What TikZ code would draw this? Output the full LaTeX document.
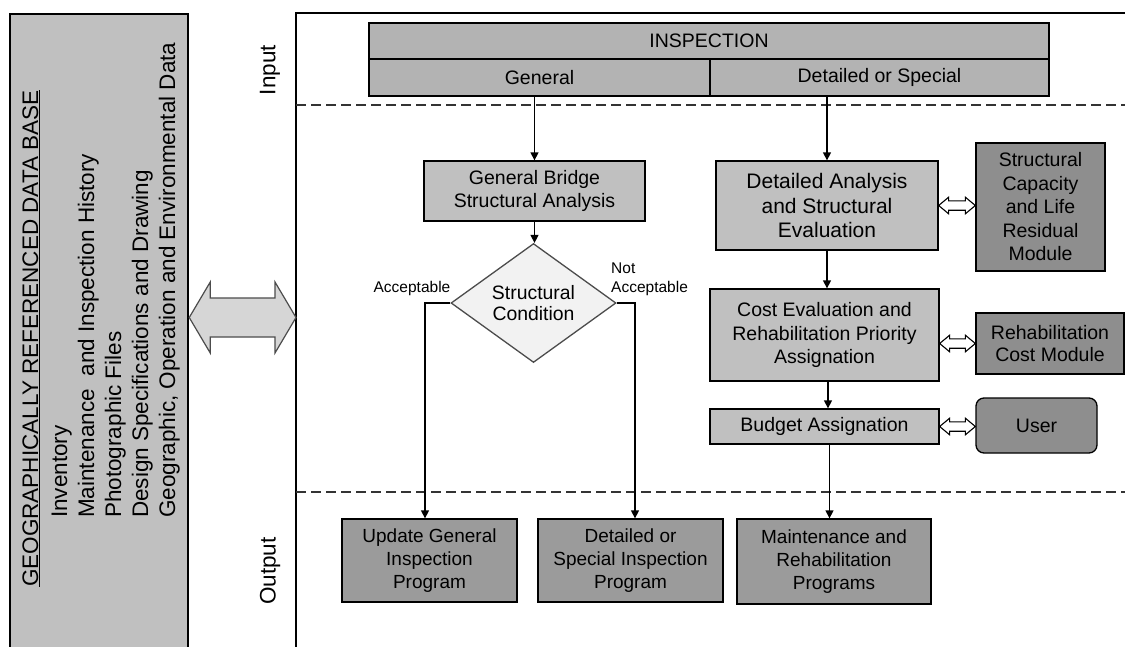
\documentclass[tikz,border=0pt]{standalone}
\usepackage{fontspec}
\setmainfont{Liberation Sans}
\usetikzlibrary{shapes.geometric,calc,arrows.meta}
\definecolor{dbfill}{HTML}{C0C0C0}
\definecolor{inspfill}{HTML}{B3B3B3}
\definecolor{midfill}{HTML}{C0C0C0}
\definecolor{darkfill}{HTML}{8E8E8E}
\definecolor{outfill}{HTML}{9B9B9B}
\definecolor{diafill}{HTML}{F2F2F2}
\definecolor{bigarrfill}{HTML}{D6D6D6}
\newcommand\hdarrow[6]{%
  \path[#6] let \p1=(#1), \p2=(#2) in
    (\x1,\y1) -- (\x1+#5pt,\y1+#3pt) -- (\x1+#5pt,\y1+#4pt) -- (\x2-#5pt,\y1+#4pt)
    -- (\x2-#5pt,\y1+#3pt) -- (\x2,\y1) -- (\x2-#5pt,\y1-#3pt) -- (\x2-#5pt,\y1-#4pt)
    -- (\x1+#5pt,\y1-#4pt) -- (\x1+#5pt,\y1-#3pt) -- cycle;}
\tikzset{
  bx/.style={draw=black, line width=1.3pt, inner sep=0pt, align=center},
  fa/.style={font=\fontsize{19.5}{22.5}\selectfont},
  fb/.style={font=\fontsize{21}{24.7}\selectfont},
  fc/.style={font=\fontsize{19.5}{23.5}\selectfont},
  fd/.style={font=\fontsize{19}{23.3}\selectfont},
  fl/.style={font=\fontsize{15.5}{19}\selectfont},
  fv/.style={font=\fontsize{22.5}{26}\selectfont},
  arr/.style={line width=1.3pt, -{Triangle[length=8pt,width=8pt]}},
  plainline/.style={line width=1.3pt},
  dashline/.style={line width=1.2pt, draw=black!80, dash pattern=on 10pt off 5pt},
  smalldbl/.style={draw=black, line width=1.1pt, fill=white},
  bigdbl/.style={draw=black!70, line width=1.2pt, fill=bigarrfill},
}
\begin{document}
\begin{tikzpicture}[x=1pt,y=-1pt]
\useasboundingbox (0,0) rectangle (1125,646);
\clip (0,0) rectangle (1125,646);
\fill[white] (0,0) rectangle (1125,646);

% left data base box
\node[draw=black, line width=2.5pt, fill=dbfill, minimum width=178pt, minimum height=650pt, inner sep=0pt] (db) at (99,339) {};
\node[fv, rotate=90, anchor=base west, inner sep=0pt] (dbtitle) at (38,587) {\underline{GEOGRAPHICALLY REFERENCED DATA BASE}};
\node[fv, rotate=90, anchor=base west, inner sep=0pt] (l1) at (67,518) {Inventory};
\node[fv, rotate=90, anchor=base west, inner sep=0pt] (l2) at (94,518) {Maintenance\ \ and Inspection History};
\node[fv, rotate=90, anchor=base west, inner sep=0pt] (l3) at (121,518) {Photographic Files};
\node[fv, rotate=90, anchor=base west, inner sep=0pt] (l4) at (148,518) {Design Specifications and Drawing};
\node[fv, rotate=90, anchor=base west, inner sep=0pt] (l5) at (175,518) {Geographic, Operation and Environmental Data};

% main frame
\coordinate (frTR) at (1125,13);
\coordinate (frTL) at (296,13);
\coordinate (frBL) at (296,650);
\coordinate (frL) at (296,317.5);
\draw[line width=2.2pt] (frTR) -- (frTL) -- (frBL);

% big double arrow
\hdarrow{db.east |- frL}{frL}{35.5}{19.5}{21}{bigdbl}

% dashed separators
\coordinate (d1a) at (296,105); \coordinate (d1b) at (1125,105);
\coordinate (d2a) at (296,492); \coordinate (d2b) at (1125,492);
\draw[dashline] (d1a) -- (d1b);
\draw[dashline] (d2a) -- (d2b);

% Input / Output
\node[fv, rotate=90, inner sep=0pt] (inlab) at (270,70) {Input};
\node[fv, rotate=90, inner sep=0pt] (outlab) at (270,571) {Output};

% inspection header
\node[bx, fa, fill=inspfill, minimum width=680pt, minimum height=36pt] (insp) at (709,41) {INSPECTION};
\node[bx, fa, fill=inspfill, minimum width=341pt, minimum height=37pt] (gen) at (539.5,77.5) {General};
\node[bx, fa, fill=inspfill, minimum width=339pt, minimum height=37pt] (det) at (879.5,77.5) {Detailed or Special};

% left branch
\node[bx, fa, fill=midfill, minimum width=221pt, minimum height=60pt] (gbsa) at (534.5,191) {General Bridge\\Structural Analysis};
\node[diamond, draw=black!70, line width=1.3pt, fill=diafill, inner sep=0pt, minimum width=165pt, minimum height=110pt, align=center, font=\fontsize{19.4}{21.7}\selectfont] (sc) at (533.5,303) {Structural\\Condition};
\node[fl, inner sep=0pt] (acc) at (412,288) {Acceptable};
\node[fl, inner sep=0pt, align=left, anchor=west] (nacc) at (611,279.5) {Not\\Acceptable};

% right branch
\node[bx, fb, fill=midfill, minimum width=222pt, minimum height=89pt] (das) at (827,205.5) {Detailed Analysis\\and Structural\\Evaluation};
\node[bx, fc, fill=darkfill, minimum width=129pt, minimum height=128pt] (scm) at (1040.5,207) {Structural\\Capacity\\and Life\\Residual\\Module};
\node[bx, fc, fill=midfill, minimum width=229pt, minimum height=92pt] (ce) at (824.5,335) {Cost Evaluation and\\Rehabilitation Priority\\Assignation};
\node[bx, fa, fill=darkfill, minimum width=148pt, minimum height=61pt] (rcm) at (1050,343.5) {Rehabilitation\\Cost Module};
\node[bx, fa, fill=midfill, minimum width=229pt, minimum height=35pt] (ba) at (824.5,426.5) {Budget Assignation};
\node[bx, fa, fill=darkfill, rounded corners=8pt, minimum width=121pt, minimum height=55pt] (user) at (1036.5,425.5) {User};

% outputs
\node[bx, fd, fill=outfill, minimum width=175pt, minimum height=83pt] (ugp) at (429.5,560.5) {Update General\\Inspection\\Program};
\node[bx, fd, fill=outfill, minimum width=185pt, minimum height=83pt] (dsp) at (630.5,560.5) {Detailed or\\Special Inspection\\Program};
\node[bx, fd, fill=outfill, minimum width=194pt, minimum height=85pt] (mrp) at (834,561.5) {Maintenance and\\Rehabilitation\\Programs};

% connectors
\draw[arr] (gbsa.north |- gen.south) -- (gbsa.north);
\draw[arr] (das.north |- det.south) -- (das.north);
\draw[arr] (gbsa.south) -- (gbsa.south |- sc.north);
\draw[arr] (sc.west) -| ([xshift=-4.5pt]ugp.north);
\draw[arr] (sc.east) -| ([xshift=4.5pt]dsp.north);
\draw[arr] (das.south) -- (das.south |- ce.north);
\draw[arr] ([xshift=1pt]das.south |- ce.south) -- ([xshift=1pt]das.south |- ba.north);
\draw[arr] ([xshift=2.5pt]das.south |- ba.south) -- ([xshift=2.5pt]das.south |- mrp.north);

% hollow double arrows
\hdarrow{das.east}{scm.west |- das.east}{8.3}{4.7}{10}{smalldbl}
\hdarrow{ce.east |- rcm.west}{rcm.west}{8.3}{4.7}{10}{smalldbl}
\hdarrow{ba.east}{user.west |- ba.east}{8.3}{4.7}{10}{smalldbl}
\end{tikzpicture}
\end{document}
